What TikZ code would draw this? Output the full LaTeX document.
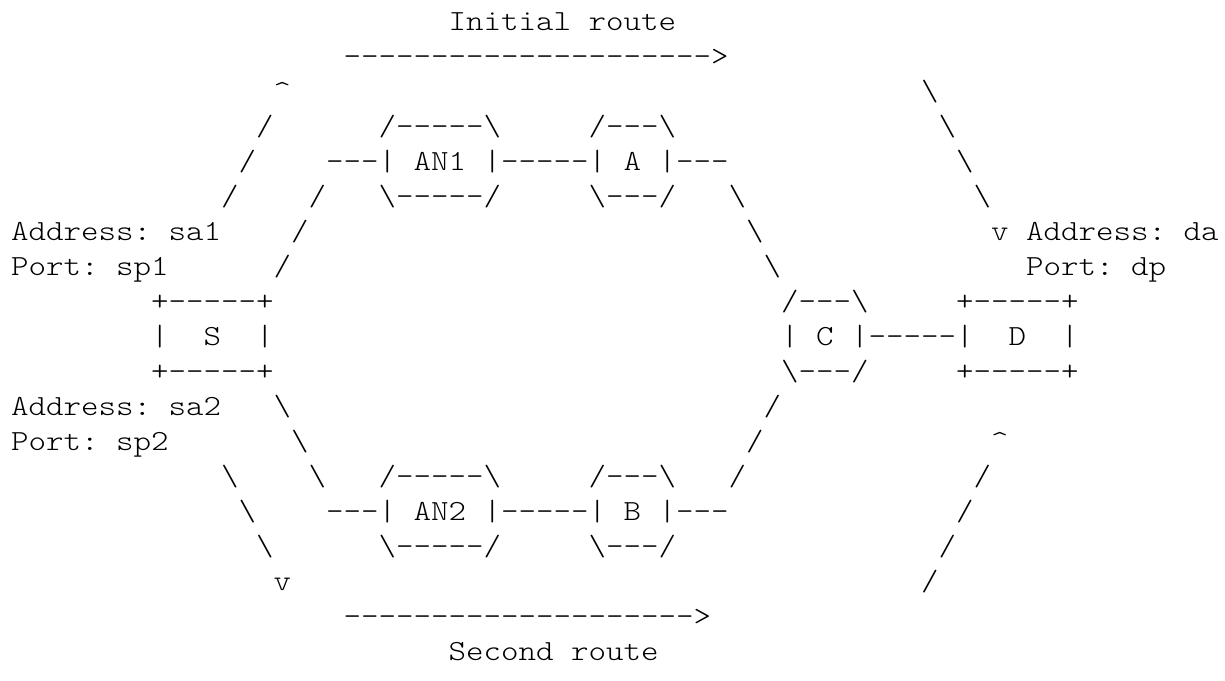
\documentclass[tikz,border=0pt]{standalone}
\usepackage{fontspec}
% a light serif typewriter face, widened to a 0.6em advance
\setmonofont{Latin Modern Mono Light}[FakeStretch=1.1429]
\newcommand\bs{\textbackslash}
\newcommand\up{\textasciicircum}
% one run of characters on the character grid: name, row, column, text
\newcommand\glyphrun[4]{%
  \node[run] (#1) at ({11+17.5*#3},{-(30+35*(#2-1))}) {#4};}
\begin{document}
\begin{tikzpicture}[x=1pt,y=1pt,
  run/.style={anchor=base west,inner sep=0pt,outer sep=0pt,
    font=\ttfamily\fontsize{29.17}{35}\selectfont,text=black}]
\fill[white] (0,0) rectangle (1225,-680);
\useasboundingbox (0,0) rectangle (1225,-680);
% upper route
\glyphrun{initlabel}{1}{25}{Initial route}
\glyphrun{initarrow}{2}{19}{--------------------->}
\glyphrun{ul3}{3}{15}{\up}
\glyphrun{ur3}{3}{52}{\bs}
\glyphrun{ul4}{4}{14}{/}
\glyphrun{anonetop}{4}{21}{/-----\bs}
\glyphrun{atop}{4}{33}{/---\bs}
\glyphrun{ur4}{4}{53}{\bs}
\glyphrun{ul5}{5}{13}{/}
\glyphrun{anoneline}{5}{18}{---| AN1 |-----| A |---}
\glyphrun{ur5}{5}{54}{\bs}
\glyphrun{ul6}{6}{12}{/}
\glyphrun{il6}{6}{17}{/}
\glyphrun{anonebot}{6}{21}{\bs-----/}
\glyphrun{abot}{6}{33}{\bs---/}
\glyphrun{ir6}{6}{41}{\bs}
\glyphrun{ur6}{6}{55}{\bs}
\glyphrun{saone}{7}{0}{Address: sa1}
\glyphrun{il7}{7}{16}{/}
\glyphrun{ir7}{7}{42}{\bs}
\glyphrun{da}{7}{56}{v Address: da}
\glyphrun{spone}{8}{0}{Port: sp1}
\glyphrun{il8}{8}{15}{/}
\glyphrun{ir8}{8}{43}{\bs}
\glyphrun{dp}{8}{58}{Port: dp}
% end hosts and router C
\glyphrun{stop}{9}{8}{+-----+}
\glyphrun{ctop}{9}{44}{/---\bs}
\glyphrun{dtop}{9}{54}{+-----+}
\glyphrun{sleft}{10}{8}{|}
\glyphrun{sname}{10}{11}{S}
\glyphrun{sright}{10}{14}{|}
\glyphrun{cline}{10}{44}{| C |-----|}
\glyphrun{dname}{10}{57}{D}
\glyphrun{dright}{10}{60}{|}
\glyphrun{sbot}{11}{8}{+-----+}
\glyphrun{cbot}{11}{44}{\bs---/}
\glyphrun{dbot}{11}{54}{+-----+}
% lower route
\glyphrun{satwo}{12}{0}{Address: sa2}
\glyphrun{il12}{12}{15}{\bs}
\glyphrun{ir12}{12}{43}{/}
\glyphrun{sptwo}{13}{0}{Port: sp2}
\glyphrun{il13}{13}{16}{\bs}
\glyphrun{ir13}{13}{42}{/}
\glyphrun{lr13}{13}{56}{\up}
\glyphrun{ll14}{14}{12}{\bs}
\glyphrun{il14}{14}{17}{\bs}
\glyphrun{antwotop}{14}{21}{/-----\bs}
\glyphrun{btop}{14}{33}{/---\bs}
\glyphrun{ir14}{14}{41}{/}
\glyphrun{lr14}{14}{55}{/}
\glyphrun{ll15}{15}{13}{\bs}
\glyphrun{antwoline}{15}{18}{---| AN2 |-----| B |---}
\glyphrun{lr15}{15}{54}{/}
\glyphrun{ll16}{16}{14}{\bs}
\glyphrun{antwobot}{16}{21}{\bs-----/}
\glyphrun{bbot}{16}{33}{\bs---/}
\glyphrun{lr16}{16}{53}{/}
\glyphrun{ll17}{17}{15}{v}
\glyphrun{lr17}{17}{52}{/}
\glyphrun{secarrow}{18}{19}{-------------------->}
\glyphrun{seclabel}{19}{25}{Second route}
\end{tikzpicture}
\end{document}
